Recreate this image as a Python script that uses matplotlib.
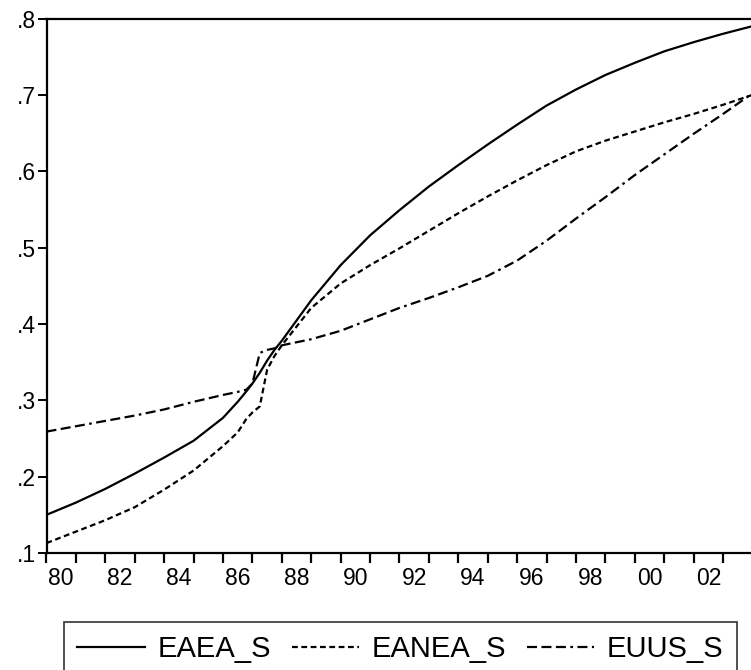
import numpy as np
import matplotlib
matplotlib.use('Agg')
import matplotlib.pyplot as plt

plt.rcParams['font.family'] = ['Liberation Sans', 'DejaVu Sans']

years = [1980, 1981, 1982, 1983, 1984, 1985, 1986, 1986.5, 1986.8, 1987.0,
         1987.25, 1987.5, 1987.75, 1988, 1989, 1990, 1991, 1992, 1993, 1994,
         1995, 1996, 1997, 1998, 1999, 2000, 2001, 2002, 2003, 2004]

eaea_s = [0.150, 0.166, 0.184, 0.204, 0.225, 0.247, 0.277, 0.298, 0.312, 0.322,
          0.336, 0.352, 0.366, 0.378, 0.431, 0.477, 0.516, 0.549, 0.580, 0.608,
          0.635, 0.661, 0.686, 0.707, 0.726, 0.742, 0.757, 0.769, 0.780, 0.790]

eanea_s = [0.113, 0.128, 0.143, 0.160, 0.183, 0.208, 0.240, 0.258, 0.276, 0.284,
           0.292, 0.340, 0.358, 0.372, 0.421, 0.453, 0.477, 0.499, 0.522, 0.545,
           0.567, 0.588, 0.608, 0.626, 0.640, 0.652, 0.664, 0.675, 0.687, 0.700]

euus_s = [0.259, 0.266, 0.273, 0.280, 0.288, 0.298, 0.307, 0.311, 0.314, 0.322,
          0.362, 0.366, 0.368, 0.372, 0.380, 0.391, 0.406, 0.421, 0.434, 0.448,
          0.463, 0.483, 0.509, 0.538, 0.566, 0.595, 0.622, 0.649, 0.675, 0.702]

ytick_vals = [0.1, 0.2, 0.3, 0.4, 0.5, 0.6, 0.7, 0.8]
ytick_labels = ['.1', '.2', '.3', '.4', '.5', '.6', '.7', '.8']
xlabel_years = list(range(1980, 2003, 2))
xlabel_text = ['80', '82', '84', '86', '88', '90', '92', '94', '96', '98', '00', '02']

fig = plt.figure(figsize=(7.51, 6.70), dpi=100)
ax = fig.add_axes([46.5 / 751, (670 - 553) / 670, 706 / 751, (553 - 18.5) / 670])

ax.plot(years, eaea_s, color='black', lw=1.6, label='EAEA_S')
ax.plot(years, eanea_s, color='black', lw=1.6, dashes=(2.6, 1.6), label='EANEA_S')
ax.plot(years, euus_s, color='black', lw=1.6, dashes=(4.5, 2.0, 4.5, 2.0, 4.5, 2.0, 1.2, 2.0),
        label='EUUS_S')

ax.set_xlim(1980, 2004)
ax.set_ylim(0.1, 0.8)

# year ticks without labels, labels sit between the ticks
ax.set_xticks(np.arange(1980, 2004))
ax.set_xticklabels([])
ax.set_xticks([y + 0.5 for y in xlabel_years], minor=True)
ax.set_xticklabels(xlabel_text, minor=True)
ax.tick_params(axis='x', which='major', direction='out', length=7.5, width=1.6)
ax.tick_params(axis='x', which='minor', length=0, pad=10, labelsize=16.5)

ax.set_yticks(ytick_vals)
ax.set_yticklabels(ytick_labels)
ax.tick_params(axis='y', direction='out', length=6.5, width=1.4, pad=1, labelsize=16.5)

for side in ['left', 'bottom', 'top']:
    ax.spines[side].set_linewidth(1.6)
ax.spines['right'].set_visible(False)

leg = fig.legend(loc='upper center', bbox_to_anchor=(400.5 / 751, (670 - 622) / 670),
                 ncol=3, fontsize=21, frameon=True, fancybox=False, edgecolor='black',
                 handlelength=2.3, handletextpad=0.45, columnspacing=0.7,
                 borderpad=0.45, borderaxespad=0)
leg.get_frame().set_linewidth(1.2)

fig.savefig('out.png', dpi=100)
